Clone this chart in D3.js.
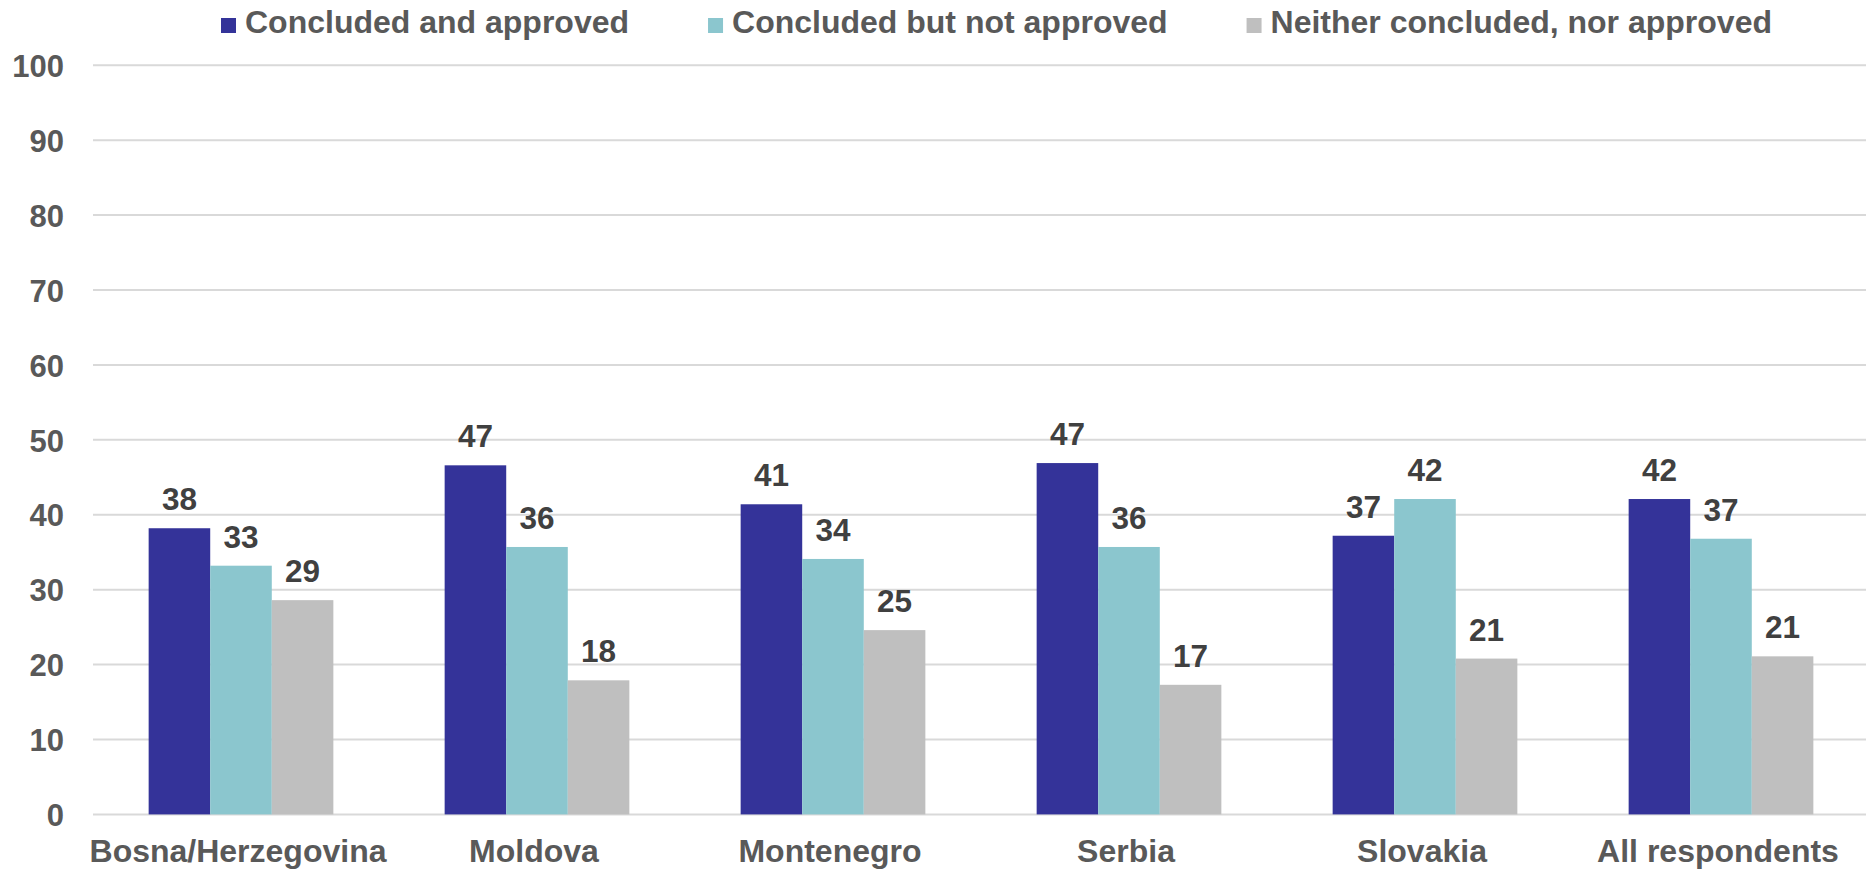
<!DOCTYPE html>
<html>
<head>
<meta charset="utf-8">
<script src="https://cdn.jsdelivr.net/npm/d3@7"></script>
<style>
  html, body { margin: 0; padding: 0; background: #ffffff; }
  svg { display: block; }
  text { font-family: "Liberation Sans", Arial, sans-serif; font-weight: bold; }
</style>
</head>
<body>
<svg id="chart" width="1866" height="870"></svg>
<script>
const categories = ["Bosna/Herzegovina", "Moldova", "Montenegro", "Serbia", "Slovakia", "All respondents"];
const seriesNames = ["Concluded and approved", "Concluded but not approved", "Neither concluded, nor approved"];
const concludedApproved = [38.2, 46.6, 41.4, 46.9, 37.2, 42.1];
const concludedNotApproved = [33.2, 35.7, 34.1, 35.7, 42.1, 36.8];
const neither = [28.6, 17.9, 24.6, 17.3, 20.8, 21.1];
const yTicks = [0, 10, 20, 30, 40, 50, 60, 70, 80, 90, 100];
const colors = ["#343399", "#8BC6CE", "#BFBFBF"];

const seriesValues = [concludedApproved, concludedNotApproved, neither];

const W = 1866, H = 870;
const mLeft = 93, mRight = 1869, mTop = 65.3, mBottom = 814.4;

const svg = d3.select("#chart");

const x = d3.scaleBand().domain(categories).range([mLeft, mRight]).paddingInner(0.376).paddingOuter(0.188);
const xs = d3.scaleBand().domain(seriesNames).range([0, x.bandwidth()]);
const y = d3.scaleLinear().domain([0, 100]).range([mBottom, mTop]);

// gridlines
svg.append("g").selectAll("line").data(yTicks).join("line")
  .attr("x1", mLeft).attr("x2", W)
  .attr("y1", d => y(d)).attr("y2", d => y(d))
  .attr("stroke", "#D9D9D9").attr("stroke-width", 2);

// y axis labels
const yAxis = d3.axisLeft(y).tickValues(yTicks).tickSize(0).tickPadding(0);
const yg = svg.append("g").attr("transform", `translate(64,0)`).call(yAxis);
yg.select(".domain").remove();
yg.selectAll("text")
  .attr("fill", "#595959").attr("font-size", 31).attr("font-family", "Liberation Sans, Arial, sans-serif")
  .attr("font-weight", "bold").attr("dy", "0.36em");

// x axis labels
const xAxis = d3.axisBottom(x).tickSize(0).tickPadding(0);
const xg = svg.append("g").attr("transform", `translate(-3,${mBottom})`).call(xAxis);
xg.select(".domain").remove();
xg.selectAll("text")
  .attr("fill", "#595959").attr("font-size", 32).attr("font-family", "Liberation Sans, Arial, sans-serif")
  .attr("font-weight", "bold").attr("dy", null).attr("y", 47.5);

// bars
const rows = categories.map((c, i) => ({ c, vals: seriesNames.map((s, j) => ({ s, j, v: seriesValues[j][i] })) }));
const groups = svg.append("g").selectAll("g").data(rows).join("g")
  .attr("transform", d => `translate(${x(d.c)},0)`);

groups.selectAll("rect").data(d => d.vals).join("rect")
  .attr("x", d => xs(d.s)).attr("width", xs.bandwidth())
  .attr("y", d => y(d.v)).attr("height", d => y(0) - y(d.v))
  .attr("fill", d => colors[d.j]);

groups.selectAll("text").data(d => d.vals).join("text")
  .attr("x", d => xs(d.s) + xs.bandwidth() / 2)
  .attr("y", d => y(d.v) - 18)
  .attr("text-anchor", "middle")
  .attr("fill", "#404040").attr("font-size", 31.5)
  .text(d => d3.format(".0f")(d.v));

// legend
const legend = svg.append("g");
let lx = 221;
seriesNames.forEach((s, j) => {
  legend.append("rect").attr("x", lx).attr("y", 18).attr("width", 15).attr("height", 15).attr("fill", colors[j]);
  const t = legend.append("text").attr("x", lx + 24).attr("y", 33).attr("fill", "#595959")
    .attr("font-size", 32).text(s);
  lx = lx + 24 + t.node().getComputedTextLength() + 79;
});
</script>
</body>
</html>
